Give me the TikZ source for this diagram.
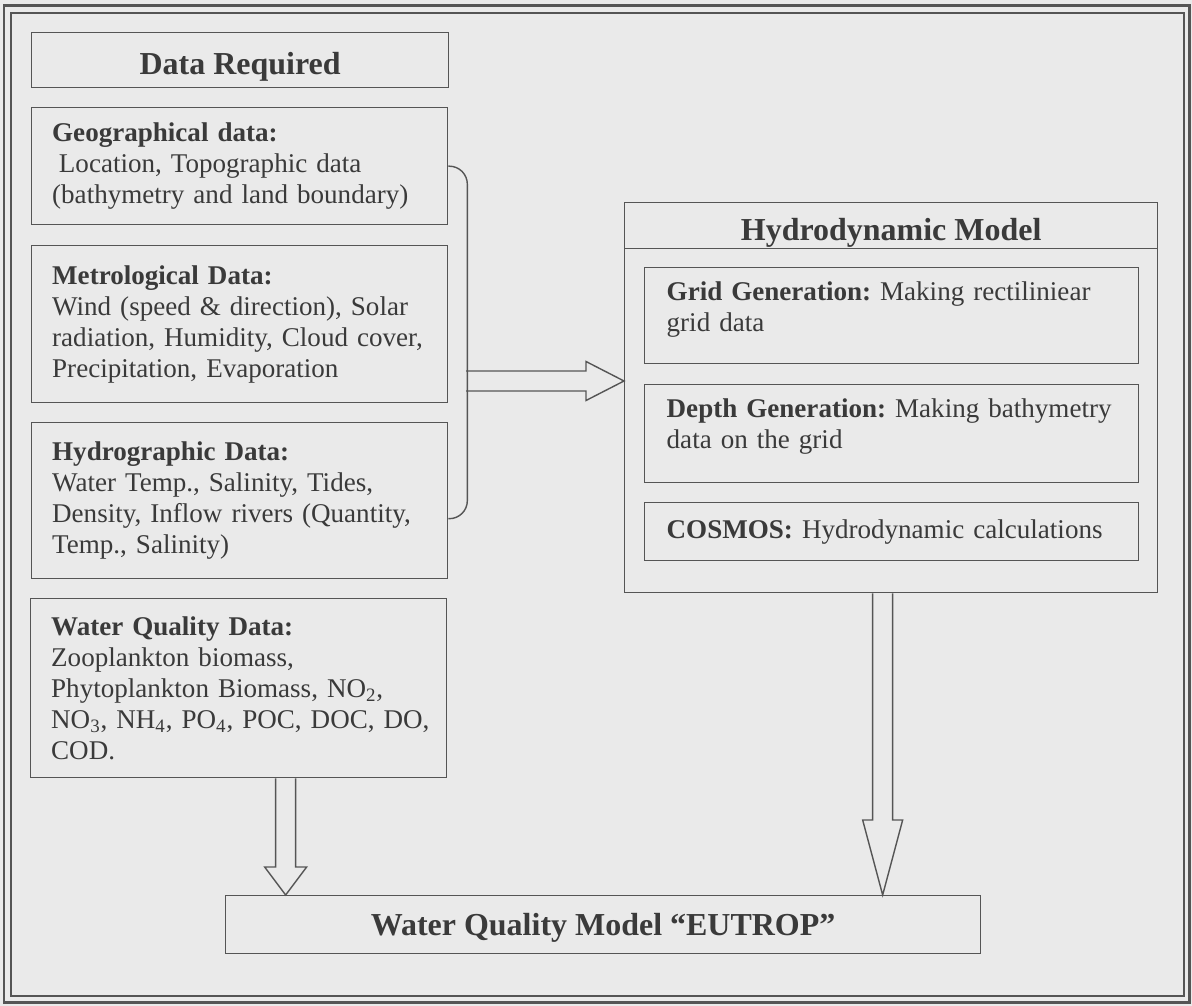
\documentclass[tikz,border=0pt]{standalone}
\usepackage{fontspec}
\setmainfont{Liberation Serif}
\usetikzlibrary{
    calc
}
\definecolor{papercolor}{RGB}{234, 234, 234}
\definecolor{linecolor}{RGB}{85, 85, 85}
\definecolor{inkcolor}{RGB}{58, 58, 58}

\begin{document}
\begin{tikzpicture}[
    x=0.02cm, y=-0.02cm,
    % Left data boxes
    databox/.style={
        rectangle,
        draw=linecolor,
        line width=0.8pt,
        anchor=north west,
        text=inkcolor,
        align=left,
        text width=7.5cm,
        inner xsep=0.41cm,
        font=\fontsize{15.4}{17.6}\selectfont\frenchspacing
    },
    % Bold headings
    headbox/.style={
        rectangle,
        draw=linecolor,
        line width=0.8pt,
        anchor=north west,
        text=inkcolor,
        minimum width=#1,
        minimum height=1.1cm,
        text depth=0pt,
        font=\fontsize{18.2}{20}\selectfont\bfseries
    },
    % Model steps
    stepbox/.style={
        databox,
        text width=9cm,
        inner xsep=0.44cm
    },
    % Outlined fat arrows
    fatdown/.style n args={3}{
        draw=linecolor,
        line width=0.8pt,
        line join=miter,
        to path={let \p1=(\tikztostart), \p2=(\tikztotarget) in
            (\x1-#1,\y1) -- (\x1-#1,\y2+#3) -- (\x1-#2,\y2+#3) -- (\x1,\y2)
            -- (\x1+#2,\y2+#3) -- (\x1+#1,\y2+#3) -- (\x1+#1,\y1)}
    },
    fatright/.style n args={3}{
        draw=linecolor,
        line width=0.8pt,
        line join=miter,
        to path={let \p1=(\tikztostart), \p2=(\tikztotarget) in
            (\x1,\y1+#1) -- (\x2-#3,\y1+#1) -- (\x2-#3,\y1+#2) -- (\x2,\y1)
            -- (\x2-#3,\y1-#2) -- (\x2-#3,\y1-#1) -- (\x1,\y1-#1)}
    }
]

% Page and frame
\fill[papercolor] (0,0) rectangle (1192,1006);
\draw[linecolor, line width=0.06cm] (4,6) rectangle (1189,1002);
\draw[linecolor, line width=0.025cm] (11,13) rectangle (1184,996);

% ============================================
% DATA REQUIRED
% ============================================

\node[headbox=8.34cm, text height=0.58cm] (datareq) at (31,32) {Data Required};

\node[databox, minimum height=2.34cm] (geo) at (31,107) {
    \textbf{Geographical data:}\\
    \hspace*{0.25em}Location, Topographic data\\
    (bathymetry and land boundary)
};

\node[databox, minimum height=3.14cm] (met) at (31,245) {
    \textbf{Metrological Data:}\\
    Wind (speed \& direction), Solar\\
    radiation, Humidity, Cloud cover,\\
    Precipitation, Evaporation
};

\node[databox, minimum height=3.12cm] (hyd) at (31,422) {
    \textbf{Hydrographic Data:}\\
    Water Temp., Salinity, Tides,\\
    Density, Inflow rivers (Quantity,\\
    Temp., Salinity)
};

\node[databox, minimum height=3.58cm] (wqdata) at (30,598) {
    \textbf{Water Quality Data:}\\
    Zooplankton biomass,\\
    Phytoplankton Biomass, NO\textsubscript{2},\\
    \mbox{NO\textsubscript{3}, NH\textsubscript{4}, PO\textsubscript{4}, POC, DOC, DO,}\\
    COD.
};

% Bracket round the first three groups
\draw[linecolor, line width=0.8pt, rounded corners=0.36cm]
    (geo.east) -- ++(19,0) |- ([yshift=-0.36cm]hyd.east);
\coordinate (bracetip) at (466,381);

% ============================================
% HYDRODYNAMIC MODEL
% ============================================

\node[rectangle, draw=linecolor, line width=0.8pt, anchor=north west,
      minimum width=10.66cm, minimum height=7.8cm] (hydro) at (624,202) {};
\node[headbox=10.66cm, minimum height=0.92cm, text height=0.6cm] (hydrohead) at (624,202)
    {Hydrodynamic Model};

\node[stepbox, minimum height=1.92cm, text depth=0.98cm] (grid) at (644,267) {
    \textbf{Grid Generation:} Making rectiliniear\\
    grid data
};

\node[stepbox, minimum height=1.96cm, text depth=1.02cm] (depth) at (644,384) {
    \textbf{Depth Generation:} Making bathymetry\\
    data on the grid
};

\node[stepbox, minimum height=1.16cm] (cosmos) at (644,502) {
    \textbf{COSMOS:} Hydrodynamic calculations
};

% ============================================
% WATER QUALITY MODEL
% ============================================

\node[headbox=15.1cm, minimum height=1.16cm, text height=0.44cm] (wqmodel) at (225,895)
    {Water Quality Model “EUTROP”};

% Connections
\draw[fatright={0.2cm}{0.39cm}{0.76cm}] (bracetip) to (bracetip -| hydro.west);
\draw[fatdown={0.2cm}{0.42cm}{0.56cm}] ([xshift=0.94cm]wqdata.south) to (wqmodel.north);
\draw[fatdown={0.2cm}{0.4cm}{1.5cm}] ([xshift=-0.17cm]hydro.south) to (wqmodel.north);

\end{tikzpicture}
\end{document}
